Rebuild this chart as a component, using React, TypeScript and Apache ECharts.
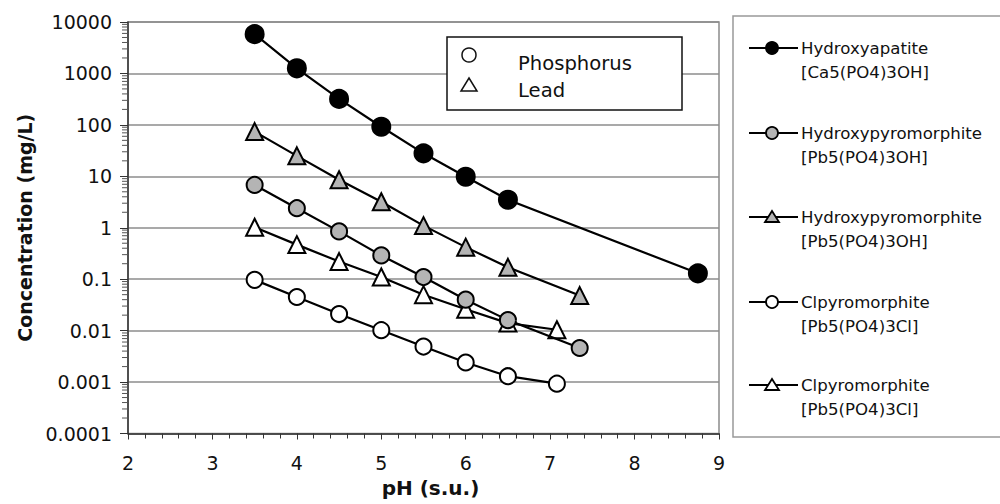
import React, { useEffect, useRef } from "react";
import * as echarts from "echarts";

const yTickLabels = ["0.0001", "0.001", "0.01", "0.1", "1", "10", "100", "1000", "10000"];
const xTickLabels = ["2", "3", "4", "5", "6", "7", "8", "9"];

const hapPH = [3.5, 4, 4.5, 5, 5.5, 6, 6.5, 8.75];
const hapConc = [5800, 1260, 320, 92, 28, 9.8, 3.5, 0.13];

const hpyPPH = [3.5, 4, 4.5, 5, 5.5, 6, 6.5, 7.35];
const hpyPConc = [6.8, 2.4, 0.85, 0.29, 0.11, 0.04, 0.016, 0.0046];

const hpyPbPH = [3.5, 4, 4.5, 5, 5.5, 6, 6.5, 7.35];
const hpyPbConc = [74, 25, 8.6, 3.2, 1.1, 0.42, 0.17, 0.048];

const clPPH = [3.5, 4, 4.5, 5, 5.5, 6, 6.5, 7.08];
const clPConc = [0.097, 0.045, 0.021, 0.0102, 0.0049, 0.0024, 0.0013, 0.00093];

const clPbPH = [3.5, 4, 4.5, 5, 5.5, 6, 6.5, 7.08];
const clPbConc = [1.02, 0.47, 0.22, 0.11, 0.05, 0.026, 0.014, 0.0104];

const legendNames = [
  "Hydroxyapatite\n[Ca5(PO4)3OH]",
  "Hydroxypyromorphite\n[Pb5(PO4)3OH]",
  "Hydroxypyromorphite\n[Pb5(PO4)3OH]",
  "Clpyromorphite\n[Pb5(PO4)3Cl]",
  "Clpyromorphite\n[Pb5(PO4)3Cl]",
];

const FONT = "DejaVu Sans";
const GRAY = "#b4b4b4";

function pairs(xs: number[], ys: number[]) {
  return xs.map((x, i) => [x, ys[i]]);
}

export default function App() {
  const ref = useRef<HTMLDivElement>(null);
  useEffect(() => {
    if (!ref.current) return;
    const chart = echarts.init(ref.current, undefined, { renderer: "svg" });

    const minorVals: number[][] = [];
    for (let k = -4; k < 4; k++) {
      for (let m = 2; m <= 9; m++) minorVals.push([2, m * Math.pow(10, k)]);
    }

    const lineSeries = (
      name: string,
      data: number[][],
      symbol: string,
      size: number,
      fill: string,
      z: number
    ) => ({
      type: "line",
      name,
      data,
      symbol,
      symbolSize: size,
      z,
      lineStyle: { color: "#000", width: 2.2 },
      itemStyle: { color: fill, borderColor: "#000", borderWidth: 2, opacity: 1 },
      emphasis: { disabled: true },
    });

    const legendY = [48, 133, 217, 302, 385];
    const legendSym = [
      { kind: "circle", fill: "#000" },
      { kind: "circle", fill: GRAY },
      { kind: "tri", fill: GRAY },
      { kind: "circle", fill: "#fff" },
      { kind: "tri", fill: "#fff" },
    ];
    const legendGraphics: any[] = [];
    legendY.forEach((y, i) => {
      legendGraphics.push({
        type: "line",
        z: 101,
        shape: { x1: 749, y1: y, x2: 798, y2: y },
        style: { stroke: "#000", lineWidth: 2.2 },
      });
      const s = legendSym[i];
      if (s.kind === "circle") {
        legendGraphics.push({
          type: "circle",
          z: 102,
          shape: { cx: 772, cy: y, r: 6 },
          style: { fill: s.fill, stroke: "#000", lineWidth: 1.8 },
        });
      } else {
        legendGraphics.push({
          type: "polygon",
          z: 102,
          shape: { points: [[772, y - 6], [779, y + 5], [765, y + 5]] },
          style: { fill: s.fill, stroke: "#000", lineWidth: 1.8 },
        });
      }
      legendGraphics.push({
        type: "text",
        z: 102,
        x: 801,
        y: y - 12,
        style: {
          text: legendNames[i],
          font: `16.6px "${FONT}"`,
          fill: "#111",
          lineHeight: 24,
          verticalAlign: "top",
          align: "left",
        },
      });
    });

    chart.setOption({
      animation: false,
      textStyle: { fontFamily: FONT },
      grid: {
        left: 128,
        right: 281,
        top: 22,
        bottom: 70.5,
        show: true,
        borderColor: "#8c8c8c",
        borderWidth: 1.5,
        backgroundColor: "transparent",
      },
      xAxis: {
        type: "value",
        min: 2,
        max: 9,
        interval: 1,
        name: "pH (s.u.)",
        nameLocation: "middle",
        nameGap: 44,
        nameTextStyle: { fontFamily: FONT, fontWeight: "bold", fontSize: 20, color: "#111", padding: [0, 0, 0, 14] },
        axisLine: { show: true, onZero: false, lineStyle: { color: "#333", width: 1.5 } },
        axisTick: { show: true, inside: false, length: 6, lineStyle: { color: "#333", width: 1 } },
        minorTick: { show: true, splitNumber: 5, length: 5, lineStyle: { color: "#333", width: 1 } },
        splitLine: { show: false },
        axisLabel: {
          fontSize: 19,
          color: "#111",
          margin: 20,
          formatter: (v: number) => xTickLabels[Math.round(v) - 2] ?? "",
        },
      },
      yAxis: {
        type: "log",
        logBase: 10,
        min: 0.0001,
        max: 10000,
        name: "Concentration (mg/L)",
        nameLocation: "middle",
        nameGap: 92,
        nameRotate: 90,
        nameTextStyle: { fontFamily: FONT, fontWeight: "bold", fontSize: 19, color: "#111" },
        axisLine: { show: true, lineStyle: { color: "#333", width: 1.5 } },
        axisTick: { show: true, inside: false, length: 8, lineStyle: { color: "#333", width: 1 } },
        splitLine: { show: true, lineStyle: { color: "#8c8c8c", width: 1.5 } },
        axisLabel: {
          fontSize: 19,
          color: "#111",
          margin: 16,
          formatter: (v: number) => yTickLabels[Math.round(Math.log10(v)) + 4] ?? "",
        },
      },
      series: [
        {
          type: "custom",
          name: "minorY",
          silent: true,
          clip: false,
          data: minorVals,
          renderItem: (_p: any, api: any) => {
            const pt = api.coord([api.value(0), api.value(1)]);
            return {
              type: "line",
              shape: { x1: pt[0] - 6, y1: pt[1], x2: pt[0], y2: pt[1] },
              style: { stroke: "#555", lineWidth: 1 },
            };
          },
          z: 1,
        },
        lineSeries("Clpyromorphite P", pairs(clPPH, clPConc), "circle", 16, "#fff", 3),
        lineSeries("Clpyromorphite Pb", pairs(clPbPH, clPbConc), "triangle", 17, "#fff", 4),
        lineSeries("Hydroxypyromorphite P", pairs(hpyPPH, hpyPConc), "circle", 16, GRAY, 5),
        lineSeries("Hydroxypyromorphite Pb", pairs(hpyPbPH, hpyPbConc), "triangle", 17, GRAY, 6),
        lineSeries("Hydroxyapatite", pairs(hapPH, hapConc), "circle", 18, "#000", 7),
      ],
      graphic: [
        {
          type: "rect",
          shape: { x: 447, y: 37, width: 235, height: 73 },
          style: { fill: "#fff", stroke: "#111", lineWidth: 1.5 },
          z: 100,
        },
        {
          type: "circle",
          shape: { cx: 469, cy: 55, r: 7 },
          style: { fill: "#fff", stroke: "#111", lineWidth: 1.5 },
          z: 101,
        },
        {
          type: "polygon",
          shape: { points: [[469, 78], [477, 91], [461, 91]] },
          style: { fill: "#fff", stroke: "#111", lineWidth: 1.5 },
          z: 101,
        },
        {
          type: "text",
          x: 518,
          y: 63,
          style: { text: "Phosphorus", font: `19.6px "${FONT}"`, fill: "#111", verticalAlign: "middle" },
          z: 101,
        },
        {
          type: "text",
          x: 518,
          y: 90,
          style: { text: "Lead", font: `19.6px "${FONT}"`, fill: "#111", verticalAlign: "middle" },
          z: 101,
        },
        {
          type: "rect",
          shape: { x: 733, y: 16, width: 290, height: 421 },
          style: { fill: "#fff", stroke: "#999", lineWidth: 1.5 },
          z: 100,
        },
        ...legendGraphics,
      ],
    });
    return () => chart.dispose();
  }, []);
  return (
    <div
      ref={ref}
      style={{ position: "fixed", left: 0, top: 0, width: 1000, height: 504, background: "#fff" }}
    />
  );
}
